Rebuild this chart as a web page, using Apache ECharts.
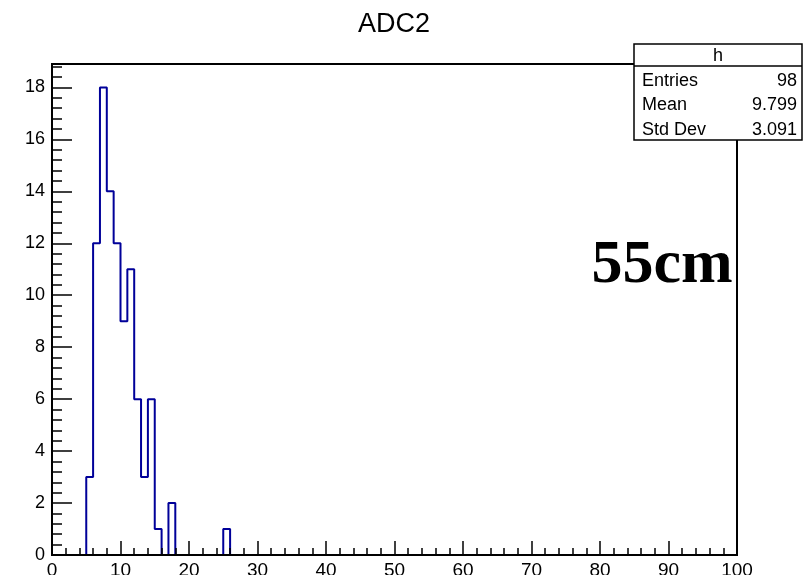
<!DOCTYPE html>
<html>
<head>
<meta charset="utf-8">
<script src="https://cdn.jsdelivr.net/npm/echarts@6/dist/echarts.min.js"></script>
<style>
html,body{margin:0;padding:0;background:#fff;}
#chart{width:803px;height:575px;}
</style>
</head>
<body>
<div id="chart"></div>
<script>
// ---- data ----
const chartTitle = 'ADC2';
const annotation = '55cm';
const nBins = 100;
const xMin = 0;
const xMax = 100;
const filledBinLows = [5, 6, 7, 8, 9, 10, 11, 12, 13, 14, 15, 17, 25];
const filledCounts  = [3, 12, 18, 14, 12, 9, 11, 6, 3, 6, 1, 2, 1];
const statsName = 'h';
const statsLabels = ['Entries', 'Mean', 'Std Dev'];
const statsValues = ['98', '9.799', '3.091'];
const yMax = 18.9;
const xTickStep = 10;
const yTickStep = 2;

// ---- build histogram outline ----
const binWidth = (xMax - xMin) / nBins;
const counts = new Array(nBins).fill(0);
filledBinLows.forEach((lo, i) => {
  counts[Math.round((lo - xMin) / binWidth)] = filledCounts[i];
});
const stepData = [];
for (let i = 0; i < nBins; i++) stepData.push([xMin + i * binWidth, counts[i]]);
stepData.push([xMax, counts[nBins - 1]]);

const chart = echarts.init(document.getElementById('chart'), null, {renderer: 'canvas'});
const FONT = 'Liberation Sans, Arial, sans-serif';

const statsGraphics = [];
const bx = 634, by = 44, bw = 168, bh = 96, hdr = 22;
statsGraphics.push({type: 'rect', shape: {x: bx, y: by, width: bw, height: bh},
  style: {fill: '#fff', stroke: '#000', lineWidth: 1.5}, z: 100});
statsGraphics.push({type: 'line', shape: {x1: bx, y1: by + hdr, x2: bx + bw, y2: by + hdr},
  style: {stroke: '#000', lineWidth: 1.5}, z: 101});
statsGraphics.push({type: 'text', x: bx + bw / 2, y: by + hdr / 2 + 1, z: 101,
  style: {text: statsName, font: '18px ' + FONT, fill: '#000', textAlign: 'center', textVerticalAlign: 'middle'}});
statsLabels.forEach((lab, i) => {
  const cy = by + hdr + 15 + i * 24.3;
  statsGraphics.push({type: 'text', x: bx + 8, y: cy, z: 101,
    style: {text: lab, font: '18px ' + FONT, fill: '#000', textAlign: 'left', textVerticalAlign: 'middle'}});
  statsGraphics.push({type: 'text', x: bx + bw - 5, y: cy, z: 101,
    style: {text: statsValues[i], font: '18px ' + FONT, fill: '#000', textAlign: 'right', textVerticalAlign: 'middle'}});
});

const option = {
  backgroundColor: '#fff',
  animation: false,
  grid: {left: 52, right: 66, top: 64, bottom: 20, show: true, borderColor: '#000', borderWidth: 2,
    backgroundColor: 'transparent', z: 5, containLabel: false, outerBoundsMode: 'none'},
  xAxis: {
    type: 'value', min: xMin, max: xMax, interval: xTickStep, z: 6,
    axisLine: {show: true, onZero: false, lineStyle: {color: '#000', width: 2}},
    axisTick: {show: true, inside: true, length: 14, lineStyle: {color: '#000', width: 1.5}},
    minorTick: {show: true, splitNumber: 5, length: 7, lineStyle: {color: '#000', width: 1.5}},
    axisLabel: {color: '#000', fontFamily: FONT, fontSize: 19, margin: 6},
    splitLine: {show: false}
  },
  yAxis: {
    type: 'value', min: 0, max: yMax, interval: yTickStep, z: 6,
    axisLine: {show: true, onZero: false, lineStyle: {color: '#000', width: 2}},
    axisTick: {show: true, inside: true, length: 20, lineStyle: {color: '#000', width: 1.5}},
    minorTick: {show: true, splitNumber: 5, length: 10, lineStyle: {color: '#000', width: 1.5}},
    axisLabel: {color: '#000', fontFamily: FONT, fontSize: 18, margin: 7, showMaxLabel: false,
      formatter: v => (Math.abs(v / yTickStep - Math.round(v / yTickStep)) < 1e-6 ? String(v) : '')},
    splitLine: {show: false}
  },
  series: [{
    type: 'line', step: 'end', data: stepData, symbol: 'none', z: 2,
    lineStyle: {color: '#000099', width: 2}
  }],
  graphic: [
    {type: 'text', x: 394, y: 25, z: 50,
      style: {text: chartTitle, font: '27px ' + FONT, fill: '#000', textAlign: 'center', textVerticalAlign: 'middle'}},
    {type: 'text', x: 662, y: 266, z: 50,
      style: {text: annotation, font: 'bold 62px Liberation Serif, Times New Roman, serif', fill: '#000', textAlign: 'center', textVerticalAlign: 'middle'}}
  ].concat(statsGraphics)
};
chart.setOption(option);
</script>
</body>
</html>
